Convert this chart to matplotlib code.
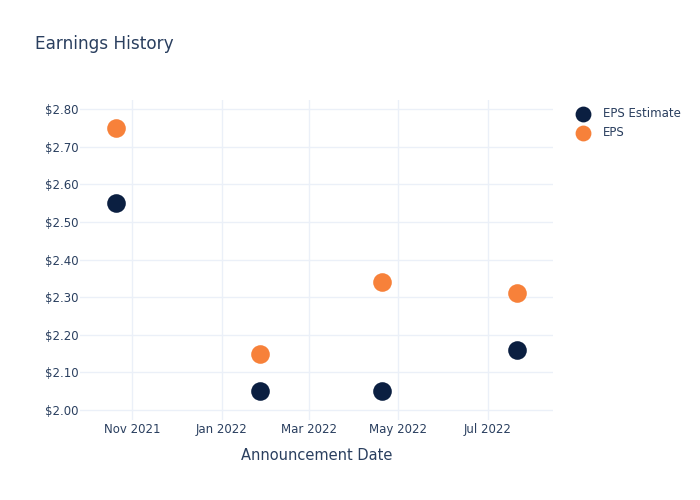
import matplotlib
matplotlib.use("Agg")
import matplotlib.pyplot as plt
import matplotlib.dates as mdates
import matplotlib.ticker as mticker
import numpy as np
import datetime as dt

dates = ["2021-10-21", "2022-01-27", "2022-04-20", "2022-07-21"]
eps_estimate = [2.55, 2.05, 2.05, 2.16]
eps_actual = [2.75, 2.15, 2.34, 2.31]
series_names = ["EPS Estimate", "EPS"]
colors = ["#0b1f41", "#f7813a"]
text_color = "#2a3f5f"
grid_color = "#ebf0f8"

x = [dt.datetime.strptime(d, "%Y-%m-%d") for d in dates]

fig = plt.figure(figsize=(7, 5), dpi=100)
ax = fig.add_axes([80/700, 80/500, 473/700, 320/500])

ax.scatter(x, eps_estimate, s=180, color=colors[0], label=series_names[0], zorder=3, linewidths=0)
ax.scatter(x, eps_actual, s=180, color=colors[1], label=series_names[1], zorder=3, linewidths=0)

ax.set_xlim(dt.datetime(2021, 9, 26, 16), dt.datetime(2022, 8, 14, 4))
ax.set_ylim(1.9734, 2.824)

ax.xaxis.set_major_locator(mdates.MonthLocator(bymonth=[1, 3, 5, 7, 9, 11]))
ax.xaxis.set_major_formatter(mdates.DateFormatter("%b %Y"))
ax.yaxis.set_major_locator(mticker.MultipleLocator(0.1))
ax.yaxis.set_major_formatter(mticker.FuncFormatter(lambda v, p: f"${v:.2f}"))

for s in ax.spines.values():
    s.set_visible(False)
ax.grid(True, color=grid_color, linewidth=1)
ax.set_axisbelow(True)
ax.tick_params(axis="both", length=0, labelsize=8.5, labelcolor=text_color)
ax.tick_params(axis="x", pad=2)
ax.tick_params(axis="y", pad=1)

ax.set_xlabel("Announcement Date", fontsize=10.5, color=text_color, labelpad=9)
fig.text(35/700, 1 - 44/500, "Earnings History", fontsize=12.2, color=text_color, va="center", ha="left")

leg = ax.legend(loc="upper left", bbox_to_anchor=(566/700, 1 - 102/500), bbox_transform=fig.transFigure,
                frameon=False, fontsize=8.5, handletextpad=0.75, labelspacing=0.55, markerscale=0.85,
                borderaxespad=0)
for t in leg.get_texts():
    t.set_color(text_color)

fig.savefig("out.png", dpi=100)
